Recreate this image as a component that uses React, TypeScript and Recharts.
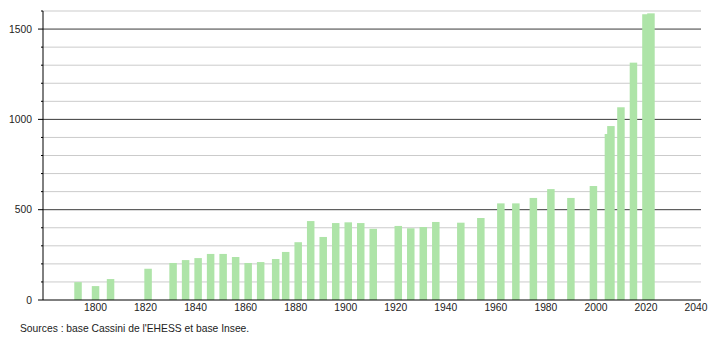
import { BarChart, Bar, XAxis, YAxis, CartesianGrid } from 'recharts'

// census years and population
const years = [
  1793, 1800, 1806, 1821, 1831, 1836, 1841, 1846, 1851, 1856, 1861, 1866, 1872, 1876, 1881,
  1886, 1891, 1896, 1901, 1906, 1911, 1921, 1926, 1931, 1936, 1946, 1954, 1962, 1968, 1975,
  1982, 1990, 1999, 2005, 2006, 2010, 2015, 2020, 2022,
]
const population = [
  99, 77, 116, 173, 205, 221, 232, 255, 255, 238, 205, 210, 227, 266, 320,
  437, 349, 426, 430, 426, 394, 410, 397, 404, 432, 428, 454, 535, 535, 565,
  614, 565, 631, 919, 963, 1067, 1314, 1582, 1587,
]

const xTicks = [1800, 1820, 1840, 1860, 1880, 1900, 1920, 1940, 1960, 1980, 2000, 2020, 2040]
const yTicks = [0, 100, 200, 300, 400, 500, 600, 700, 800, 900, 1000, 1100, 1200, 1300, 1400, 1500, 1600]
const minorLines = [100, 200, 300, 400, 600, 700, 800, 900, 1100, 1200, 1300, 1400, 1600]
const majorLines = [500, 1000, 1500]

const data = years.map((year, i) => ({ year, pop: population[i] }))

const font = '"Liberation Sans", Arial, sans-serif'
const BAR_W = 7.5

function YTick({ x, y, payload }: any) {
  const major = payload.value % 500 === 0
  return (
    <g>
      <line x1={x - (major ? 5 : 2)} x2={x} y1={y} y2={y} stroke="#000" />
      {major && (
        <text x={x - 11} y={y} dy="0.35em" textAnchor="end" fontSize={10.3} fontFamily={font} fill="#222">
          {payload.value}
        </text>
      )}
    </g>
  )
}

// numeric x axis squeezes bars to the smallest year gap, so widen them around their centre
function WideBar({ x, y, width, height, fill }: any) {
  const cx = x + width / 2
  return <rect x={cx - BAR_W / 2} y={y} width={BAR_W} height={height} fill={fill} />
}

export default function App() {
  return (
    <div style={{ position: 'absolute', left: 0, top: 0, width: 710, height: 340, background: '#fff' }}>
      <BarChart width={710} height={340} data={data} margin={{ top: 11, right: 9, bottom: 20, left: 0 }}>
        <CartesianGrid vertical={false} horizontalValues={minorLines} stroke="#cbcbcb" />
        <CartesianGrid vertical={false} horizontalValues={majorLines} stroke="#3a3a3a" />
        <XAxis
          dataKey="year"
          type="number"
          domain={[1779, 2042]}
          ticks={xTicks}
          interval={0}
          height={20}
          tickLine={false}
          tickSize={0}
          tickMargin={4}
          axisLine={{ stroke: '#000' }}
          tick={{ fontSize: 10.3, fontFamily: font, fill: '#222' }}
        />
        <YAxis
          type="number"
          domain={[0, 1600]}
          ticks={yTicks}
          interval={0}
          width={43}
          tickLine={false}
          tickSize={0}
          tickMargin={0}
          axisLine={{ stroke: '#000' }}
          tick={<YTick />}
        />
        <Bar dataKey="pop" fill="#aee4a8" shape={<WideBar />} isAnimationActive={false} />
      </BarChart>
      <div
        style={{
          position: 'absolute',
          left: 20,
          top: 323,
          fontFamily: font,
          fontSize: 10.3,
          lineHeight: '12px',
          color: '#222',
          whiteSpace: 'nowrap',
        }}
      >
        Sources : base Cassini de l'EHESS et base Insee.
      </div>
    </div>
  )
}
